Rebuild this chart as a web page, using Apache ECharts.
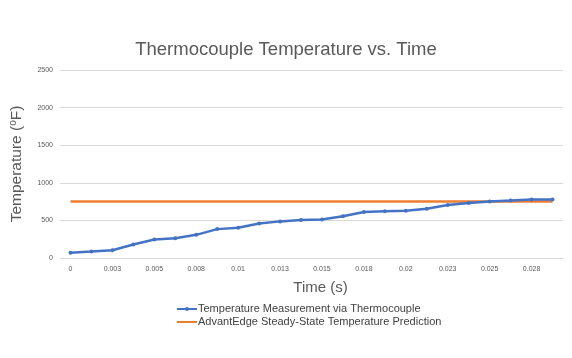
<!DOCTYPE html>
<html><head><meta charset="utf-8">
<script src="https://cdn.jsdelivr.net/npm/echarts@6/dist/echarts.min.js"></script>
<style>html,body{margin:0;padding:0;background:#fff}#c{width:572px;height:358px}</style>
</head><body><div id="c"></div>
<script>
const timeLabels = ["0","0.001","0.003","0.004","0.005","0.006","0.008","0.009","0.01","0.011","0.013","0.014","0.015","0.016","0.018","0.019","0.02","0.021","0.023","0.024","0.025","0.026","0.028","0.029"];
const measured = [71,85,103,179,246,263,308,384,402,460,487,504,513,554,612,621,629,656,705,732,750,763,777,777];
const predicted = [750,750,750,750,750,750,750,750,750,750,750,750,750,750,750,750,750,750,750,750,750,750,750,750];
const yTicks = [0,500,1000,1500,2000,2500];

const font = "Liberation Sans";
const chart = echarts.init(document.getElementById('c'), null, {renderer:'canvas'});
chart.setOption({
  animation:false,
  textStyle:{fontFamily:font},
  title:{text:"Thermocouple Temperature vs. Time", left:'center', top:35,
    textStyle:{fontFamily:font, fontSize:18.5, fontWeight:'normal', color:'#595959'}},
  grid:{left:53, right:9, top:70, bottom:100},
  legend:{orient:'vertical', left:171, top:298, itemGap:1, itemWidth:20, itemHeight:5,
    textStyle:{fontFamily:font, fontSize:11, color:'#404040', padding:[0,0,0,-4], lineHeight:12},
    data:[{name:"Temperature Measurement via Thermocouple"},
          {name:"AdvantEdge Steady-State Temperature Prediction", itemStyle:{opacity:0}}]},
  xAxis:{type:'category', data:timeLabels, boundaryGap:true,
    name:"Time (s)", nameLocation:'middle', nameGap:22,
    nameTextStyle:{fontFamily:font, fontSize:15, color:'#595959', padding:[0,0,0,18]},
    axisLine:{lineStyle:{color:'#d9d9d9'}}, axisTick:{show:false},
    axisLabel:{interval:1, fontSize:7, color:'#595959', margin:8}},
  yAxis:{type:'value', min:0, max:2500, interval:500,
    name:"Temperature ({s|o}F)", nameLocation:'middle', nameGap:34,
    nameTextStyle:{fontFamily:font, fontSize:15.5, color:'#595959',
      rich:{s:{fontSize:10, verticalAlign:'top', padding:[0,0,8,0], color:'#595959'}}},
    axisLine:{show:false}, axisTick:{show:false},
    splitLine:{lineStyle:{color:'#d9d9d9', width:1}},
    axisLabel:{fontSize:7, color:'#595959', margin:7,
      formatter: v => yTicks.includes(v) ? String(v) : ''}},
  series:[
    {name:"Temperature Measurement via Thermocouple", type:'line', data:measured,
      symbol:'circle', symbolSize:4, lineStyle:{color:'#4472C4', width:2.5},
      itemStyle:{color:'#4472C4'}, z:4},
    {name:"AdvantEdge Steady-State Temperature Prediction", type:'line', data:predicted,
      symbol:'none', lineStyle:{color:'#ED7D31', width:2.5}, itemStyle:{color:'#ED7D31'}, z:3}
  ]
});
</script></body></html>
